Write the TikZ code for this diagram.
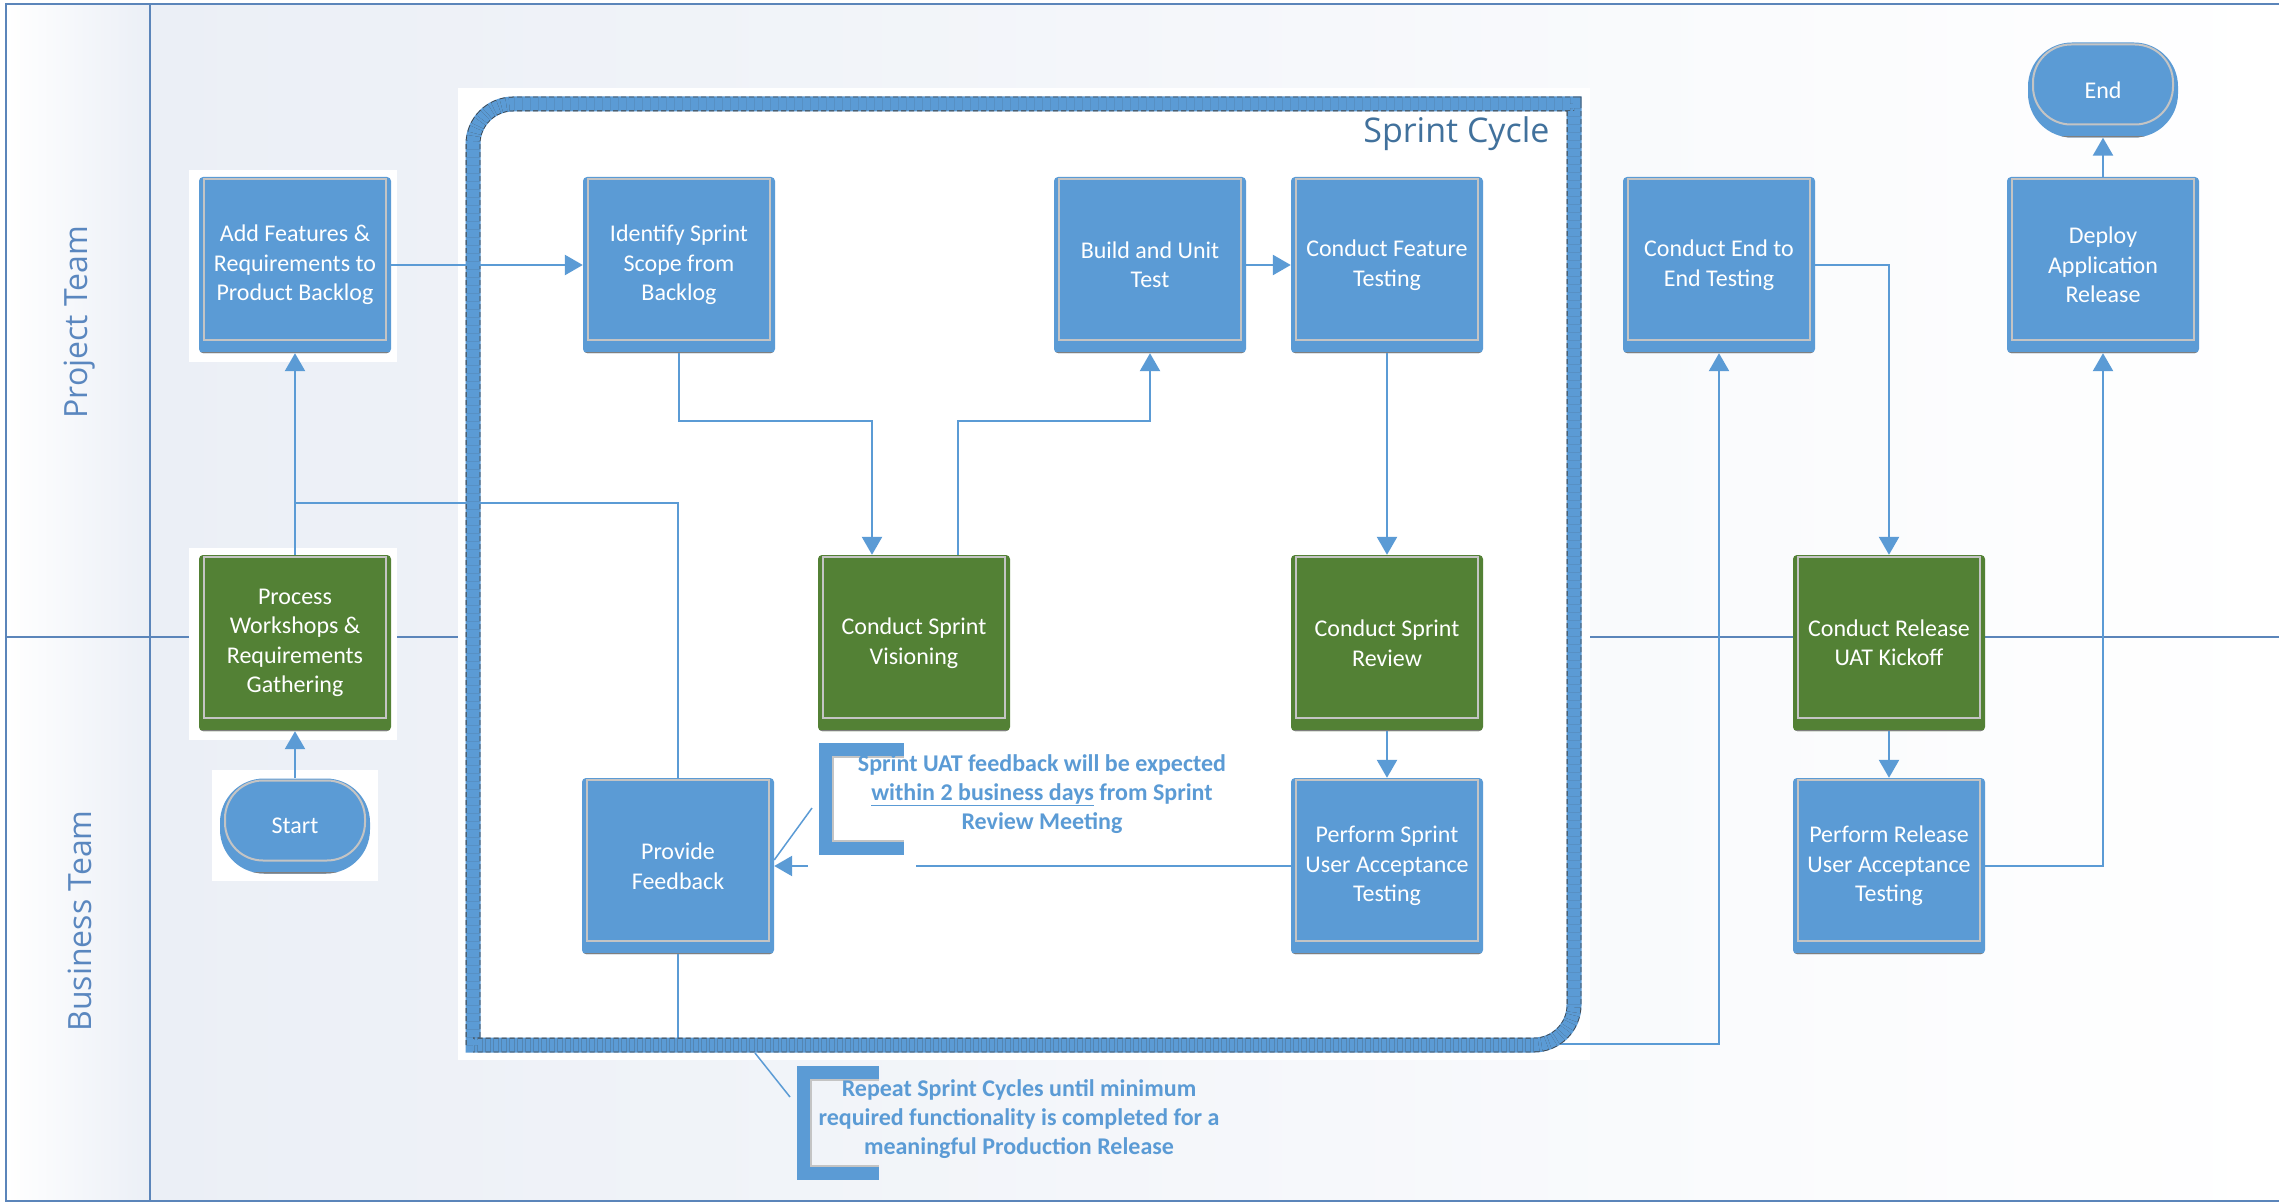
\documentclass[tikz,border=0pt]{standalone}
\usepackage{fontspec}
\setmainfont{Carlito}
\newfontfamily\lanefont{Open Sans}
\usepackage{tikz}
\usetikzlibrary{arrows.meta, positioning}
\definecolor{cBlue}{HTML}{5B9BD5}
\definecolor{cGreen}{HTML}{538135}
\definecolor{cLine}{HTML}{5B9BD5}
\definecolor{cFrame}{HTML}{5B85BA}
\definecolor{cTitle}{HTML}{41719C}
\definecolor{cLane}{HTML}{5A87BF}
\definecolor{cEdge}{HTML}{C4C4C4}
\definecolor{cShade}{HTML}{7F7F7F}
\definecolor{cBack}{HTML}{EBEFF6}

\tikzset{
  task/.style={rectangle, rounded corners=4pt, fill=cBlue, text=white,
    minimum width=192pt, minimum height=176pt, align=center,
    font=\fontsize{24}{29.5}\selectfont,
    path picture={
      \draw[cEdge, line width=2pt, sharp corners] ([shift={(5pt,-2pt)}]path picture bounding box.north west) rectangle ([shift={(-5pt,13pt)}]path picture bounding box.south east);
      \draw[cShade, line width=3pt] (path picture bounding box.south west) -- (path picture bounding box.south east);}},
  greentask/.style={task, fill=cGreen},
  term/.style={rectangle, rounded corners=44pt, fill=cBlue, text=white,
    minimum width=150pt, minimum height=95pt,
    font=\fontsize{24}{29.5}\selectfont,
    path picture={
      \draw[cEdge, line width=2pt, rounded corners=38pt] ([shift={(5pt,-2pt)}]path picture bounding box.north west) rectangle ([shift={(-5pt,13pt)}]path picture bounding box.south east);
      \draw[cShade, line width=3pt] (path picture bounding box.south west) -- (path picture bounding box.south east);}},
  flow/.style={draw=cLine, line width=2.5pt, -{Triangle[length=18pt,width=20pt]}},
  link/.style={draw=cLine, line width=2.5pt},
  leader/.style={draw=cLine, line width=1.5pt},
  note/.style={text=cBlue, align=center, font=\fontsize{24}{29}\selectfont\bfseries},
  lane/.style={rotate=90, text=cLane, font=\lanefont\fontsize{32}{36}\selectfont},
  brace/.style={draw=cBlue, line width=14pt},
}

\begin{document}
\begin{tikzpicture}[x=1pt, y=-1pt]
    \useasboundingbox (0,0) rectangle (2279,1204);
    % Background
    \fill[white] (0,0) rectangle (2279,1204);
    \shade[left color=white, right color=cBack] (6,4) rectangle (150,1201);
    \shade[left color=cBack, right color=white] (150,4) rectangle (2279,1201);
    % Lanes
    \draw[cFrame, line width=2pt] (2279,4) -- (6,4) -- (6,1201) -- (2279,1201);
    \draw[cFrame, line width=2pt] (150,4) -- (150,1201);
    \draw[cFrame, line width=2pt] (6,637) -- (2279,637);
    \node[lane] (pt) at (80,322) {Project Team};
    \node[lane] (bt) at (80,921) {Business Team};
    % White backdrops
    \fill[white] (458,88) rectangle (1590,1060);
    \fill[white] (189,170) rectangle (397,362);
    \fill[white] (189,548) rectangle (397,740);
    \fill[white] (212,770) rectangle (378,881);

    % Project Team
    \node[task] (add) at (295,265) {Add Features \&\\Requirements to\\Product Backlog};
    \node[task] (scope) at (679,265) {Identify Sprint\\Scope from\\Backlog};
    \node[task] (build) at (1150,265) {Build and Unit\\Test};
    \node[task] (feat) at (1387,265) {Conduct Feature\\Testing};
    \node[task] (e2e) at (1719,265) {Conduct End to\\End Testing};
    \node[task] (deploy) at (2103,265) {Deploy\\Application\\Release};
    \node[term] (endT) at (2103,90) {End};
    % Across both lanes
    \node[greentask] (proc) at (295,643) {Process\\Workshops \&\\Requirements\\Gathering};
    \node[greentask] (vis) at (914,643) {Conduct Sprint\\Visioning};
    \node[greentask] (rev) at (1387,643) {Conduct Sprint\\Review};
    \node[greentask] (kick) at (1889,643) {Conduct Release\\UAT Kickoff};
    % Business Team
    \node[term] (start) at (295,826) {Start};
    \node[task] (fb) at (678,866) {Provide\\Feedback};
    \node[task] (pua) at (1387,866) {Perform Sprint\\User Acceptance\\Testing};
    \node[task] (pra) at (1889,866) {Perform Release\\User Acceptance\\Testing};

    % Loop back out of the sprint
    \draw[flow] (fb.south) -- ++(0,90) -| (e2e.south);

    % Sprint cycle frame
    \draw[cBlue, line width=15pt] (473,1045) -- (473,144) .. controls (473,122) and (491,104) .. (513,104) -- (1574,104) -- (1574,1005) .. controls (1574,1027) and (1556,1045) .. (1534,1045) -- cycle;
    \draw[black!75, line width=0.8pt, dash pattern=on 5pt off 3pt, double=cBlue, double distance=13pt] (473,1045) -- (473,144) .. controls (473,122) and (491,104) .. (513,104) -- (1574,104) -- (1574,1005) .. controls (1574,1027) and (1556,1045) .. (1534,1045) -- cycle;
    \node[anchor=base east, text=cTitle, font=\lanefont\fontsize{34}{40}\selectfont] (sct) at (1553,143) {Sprint Cycle};

    % Flow
    \coordinate (j1) at (295,503);
    \draw[flow] (start) -- (proc);
    \draw[flow] (proc) -- (add);
    \draw[link] (fb.north) |- (j1);
    \draw[flow] (add) -- (scope);
    \draw[flow] (scope.south) -- ++(0,68) -| ([xshift=-42pt]vis.north);
    \draw[flow] ([xshift=44pt]vis.north) -- ++(0,-134) -| (build.south);
    \draw[flow] (build) -- (feat);
    \draw[flow] (feat) -- (rev);
    \draw[flow] (rev) -- (pua);
    \draw[flow] (pua) -- (fb);
    \draw[flow] (e2e.east) -| (kick.north);
    \draw[flow] (kick) -- (pra);
    \draw[flow] (pra.east) -| (deploy.south);
    \draw[flow] (deploy) -- (endT);

    % Note on feedback
    \fill[white] (808,738) rectangle (916,872);
    \draw[brace] (904,750) -- (826,750) -- (826,848) -- (904,848);
    \draw[cEdge, line width=1.5pt] (904,757) -- (833,757) -- (833,841) -- (904,841);
    \node[note] (n1) at (1042,794) {Sprint UAT feedback will be expected\\\underline{within 2 business days} from Sprint\\Review Meeting};
    \coordinate (n1a) at (812,808);
    \draw[leader] (n1a) -- ([yshift=6pt]fb.east);

    % Note on repeating
    \draw[brace] (879,1073) -- (804,1073) -- (804,1173) -- (879,1173);
    \draw[cEdge, line width=1.5pt] (879,1080) -- (811,1080) -- (811,1166) -- (879,1166);
    \node[note] (n2) at (1019,1119) {Repeat Sprint Cycles until minimum\\required functionality is completed for a\\meaningful Production Release};
    \coordinate (n2a) at (790,1097);
    \coordinate (sc) at (755,1053);
    \draw[leader] (n2a) -- (sc);
\end{tikzpicture}
\end{document}
